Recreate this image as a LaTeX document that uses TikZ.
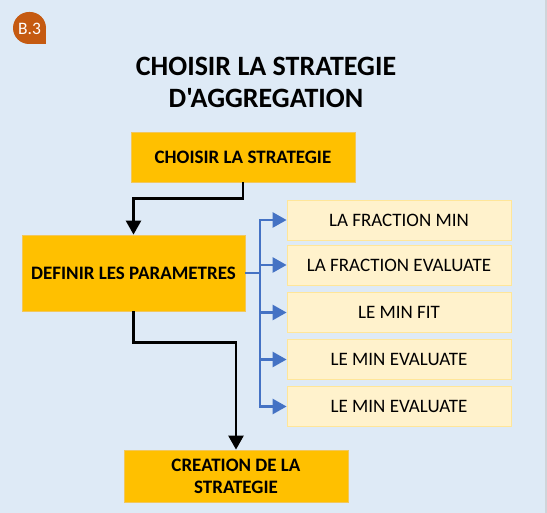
\documentclass[tikz,border=0pt]{standalone}
\usepackage{fontspec}
\setmainfont{Carlito}[Ligatures=TeXOff]
\usetikzlibrary{arrows.meta}
\definecolor{bg}{HTML}{DEEAF6}
\definecolor{orangebox}{HTML}{FFC000}
\definecolor{orangeline}{HTML}{F2C75C}
\definecolor{lightbox}{HTML}{FFF2CC}
\definecolor{lightline}{HTML}{FFE699}
\definecolor{badge}{HTML}{C55A11}
\definecolor{bluearrow}{HTML}{4472C4}
\definecolor{edgegray}{HTML}{D0D4D9}
\tikzset{
  mainbox/.style={draw=orangeline, line width=0.8pt, fill=orangebox, minimum width=224pt, align=center,
    font=\fontsize{19}{22}\selectfont\bfseries, inner sep=2pt},
  parambox/.style={draw=lightline, line width=0.8pt, fill=lightbox, minimum width=224pt, minimum height=40pt,
    font=\fontsize{19}{22}\selectfont, inner sep=2pt},
  blackconn/.style={line width=2.5pt, black, -{Triangle[width=15pt,length=14pt]}},
  blueconn/.style={line width=2.6pt, bluearrow, -{Triangle[width=15pt,length=14pt]}},
}
\begin{document}
\begin{tikzpicture}[x=1pt,y=-1pt]
\fill[bg] (0,0) rectangle (547,513);
\useasboundingbox (0,0) rectangle (547,513);
\fill[edgegray] (545,0) rectangle (547,513);
% badge
\fill[badge, rounded corners=16pt] (46,28) -- (46,12) -- (13,12) -- (13,44) -- (46,44) [sharp corners] -- (46,28);
\fill[badge] (30,44) rectangle (46,28);
\node[text=white, font=\fontsize{17.5}{20}\selectfont] (badgetext) at (29.5,29) {B.3};
% title
\node[font=\fontsize{28}{32}\selectfont\bfseries, align=center] (title) at (266,82) {CHOISIR LA STRATEGIE\\D'AGGREGATION};
% main boxes
\node[mainbox, minimum height=50pt] (b1) at (243,157) {CHOISIR LA STRATEGIE};
\node[mainbox, minimum width=223pt, minimum height=76pt] (b2) at (133.5,273) {DEFINIR LES PARAMETRES};
\node[mainbox, minimum height=52pt] (b3) at (236,476) {CREATION DE LA\\STRATEGIE};
% parameter boxes
\node[parambox] (r1) at (399,220) {LA FRACTION MIN};
\node[parambox] (r2) at (399,265) {LA FRACTION EVALUATE};
\node[parambox] (r3) at (399,312.5) {LE MIN FIT};
\node[parambox] (r4) at (399,359.5) {LE MIN EVALUATE};
\node[parambox] (r5) at (399,406.5) {LE MIN EVALUATE};
% black connectors
\draw[blackconn] (b1.south) -- ++(0,16) -| (b2.north);
\draw[blackconn] (b2.south) -- ++(0,31) -| (b3.north);
% blue connectors
\coordinate (j) at (260,273);
\draw[line width=2.6pt, bluearrow] (b2.east) -- (j);
\foreach \r in {r1,r2,r3,r4,r5}{
  \draw[blueconn] (j) |- (\r.west);
}
\end{tikzpicture}
\end{document}
